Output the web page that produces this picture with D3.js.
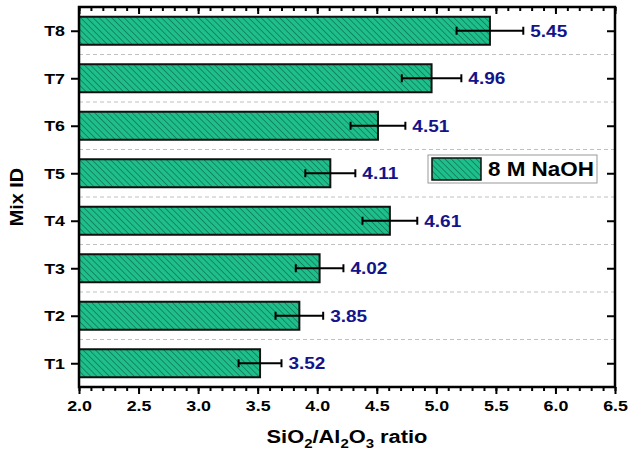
<!DOCTYPE html>
<html>
<head>
<meta charset="utf-8">
<script src="https://cdn.jsdelivr.net/npm/d3@7"></script>
<style>
  body { margin: 0; background: #fff; }
  svg text { font-family: Arial, "Liberation Sans", sans-serif; font-weight: bold; }
</style>
</head>
<body>
<div id="chart"></div>
<script>
// data
const mixes = ['T1', 'T2', 'T3', 'T4', 'T5', 'T6', 'T7', 'T8'];
const ratios = [3.52, 3.85, 4.02, 4.61, 4.11, 4.51, 4.96, 5.45];
const errors = [0.18, 0.20, 0.20, 0.23, 0.21, 0.23, 0.25, 0.28];
const xTicks = [2.0, 2.5, 3.0, 3.5, 4.0, 4.5, 5.0, 5.5, 6.0, 6.5];
const seriesName = '8 M NaOH';

const width = 628, height = 452;
const margin = {top: 7, right: 13, bottom: 65, left: 79};
const sx = 1.15; // text in the original is a bit wider than Arial

const svg = d3.select('#chart')
    .append('svg')
    .attr('width', width)
    .attr('height', height);

// hatch pattern for bars
const defs = svg.append('defs');
const pat = defs.append('pattern')
    .attr('id', 'hatch')
    .attr('patternUnits', 'userSpaceOnUse')
    .attr('width', 4.4)
    .attr('height', 4.4)
    .attr('patternTransform', 'rotate(-45)');
pat.append('rect').attr('width', 4.4).attr('height', 4.4).attr('fill', '#1ebf8b');
pat.append('line')
    .attr('x1', 0).attr('y1', 0).attr('x2', 0).attr('y2', 4.4)
    .attr('stroke', '#0c6b4c').attr('stroke-width', 1.3);

const x = d3.scaleLinear()
    .domain([2.0, 6.5])
    .range([margin.left, width - margin.right]);

const y = d3.scaleLinear()
    .domain([0.5, 8.5])
    .range([height - margin.bottom, margin.top]);

const barH = 28;

// dashed grid lines between categories
svg.append('g')
    .selectAll('line')
    .data(d3.range(1.5, 8.5, 1))
    .join('line')
        .attr('x1', x(2.0))
        .attr('x2', x(6.5))
        .attr('y1', d => y(d))
        .attr('y2', d => y(d))
        .attr('stroke', '#c0c0c0')
        .attr('stroke-dasharray', '4,3')
        .attr('stroke-width', 1);

// bars
svg.append('g')
    .selectAll('rect')
    .data(mixes)
    .join('rect')
        .attr('x', x(2.0))
        .attr('y', (_, i) => y(i + 1) - barH / 2)
        .attr('width', (_, i) => x(ratios[i]) - x(2.0))
        .attr('height', barH)
        .attr('fill', 'url(#hatch)')
        .attr('stroke', '#111')
        .attr('stroke-width', 2);

// error bars
const eb = svg.append('g').attr('stroke', '#000').attr('stroke-width', 2);
mixes.forEach((m, i) => {
    const cy = y(i + 1);
    const x0 = x(ratios[i] - errors[i]), x1 = x(ratios[i] + errors[i]);
    eb.append('line').attr('x1', x0).attr('x2', x1).attr('y1', cy).attr('y2', cy);
    eb.append('line').attr('x1', x0).attr('x2', x0).attr('y1', cy - 4).attr('y2', cy + 4);
    eb.append('line').attr('x1', x1).attr('x2', x1).attr('y1', cy - 4).attr('y2', cy + 4);
});

// value labels
svg.append('g')
    .selectAll('text')
    .data(mixes)
    .join('text')
        .attr('transform', (_, i) => `translate(${x(ratios[i] + errors[i]) + 7},${y(i + 1)}) scale(${sx},1)`)
        .attr('dy', '0.36em')
        .attr('fill', '#13138a')
        .attr('font-size', 16.5)
        .text((_, i) => ratios[i].toFixed(2));

// axes
const minor = d3.range(20, 66).map(d => d / 10);

const xAxis = svg.append('g')
    .attr('transform', `translate(0,${y(0.5)})`)
    .call(d3.axisBottom(x).tickValues(xTicks).tickFormat(d3.format('.1f')).tickSize(7).tickPadding(6));
xAxis.selectAll('text')
    .attr('font-size', 15.5)
    .attr('fill', '#000')
    .attr('transform', `scale(${sx},1)`);

svg.append('g')
    .attr('transform', `translate(0,${y(0.5)})`)
    .call(d3.axisBottom(x).tickValues(minor).tickFormat('').tickSize(4));

// top mirror ticks (inward)
svg.append('g')
    .attr('transform', `translate(0,${y(8.5)})`)
    .call(d3.axisBottom(x).tickValues(xTicks).tickFormat('').tickSize(7));
svg.append('g')
    .attr('transform', `translate(0,${y(8.5)})`)
    .call(d3.axisBottom(x).tickValues(minor).tickFormat('').tickSize(4));

const yAxis = svg.append('g')
    .attr('transform', `translate(${x(2.0)},0)`)
    .call(d3.axisLeft(y).tickValues(d3.range(1, 9)).tickFormat(d => mixes[d - 1]).tickSize(8).tickPadding(6));
yAxis.selectAll('text')
    .attr('font-size', 15.5)
    .attr('fill', '#000')
    .attr('x', -14 / sx)
    .attr('transform', `scale(${sx},1)`);

// right mirror ticks (inward)
svg.append('g')
    .attr('transform', `translate(${x(6.5)},0)`)
    .call(d3.axisLeft(y).tickValues(d3.range(1, 9)).tickFormat('').tickSize(8));

svg.selectAll('.domain').remove();
svg.selectAll('.tick line').attr('stroke', '#000').attr('stroke-width', 2);

// frame
svg.append('rect')
    .attr('x', x(2.0))
    .attr('y', y(8.5))
    .attr('width', x(6.5) - x(2.0))
    .attr('height', y(0.5) - y(8.5))
    .attr('fill', 'none')
    .attr('stroke', '#000')
    .attr('stroke-width', 2.5);

// axis titles
const xt = svg.append('text')
    .attr('transform', `translate(${(x(2.0) + x(6.5)) / 2},443) scale(${sx},1)`)
    .attr('text-anchor', 'middle')
    .attr('font-size', 19)
    .attr('fill', '#000');
xt.append('tspan').text('SiO');
xt.append('tspan').attr('font-size', 13).attr('dy', 5).text('2');
xt.append('tspan').attr('dy', -5).text('/Al');
xt.append('tspan').attr('font-size', 13).attr('dy', 5).text('2');
xt.append('tspan').attr('dy', -5).text('O');
xt.append('tspan').attr('font-size', 13).attr('dy', 5).text('3');
xt.append('tspan').attr('dy', -5).text(' ratio');

svg.append('text')
    .attr('transform', `translate(23,${y(4.5)}) rotate(-90) scale(1.1,1)`)
    .attr('text-anchor', 'middle')
    .attr('font-size', 18)
    .attr('fill', '#000')
    .text('Mix ID');

// legend
const lg = svg.append('g').attr('transform', 'translate(428,155)');
lg.append('rect')
    .attr('width', 169).attr('height', 28)
    .attr('fill', '#fff').attr('stroke', '#999').attr('stroke-width', 1);
lg.append('rect')
    .attr('x', 4).attr('y', 3).attr('width', 49).attr('height', 22)
    .attr('fill', 'url(#hatch)').attr('stroke', '#111').attr('stroke-width', 1.5);
lg.append('text')
    .attr('transform', `translate(60,14) scale(${sx},1)`)
    .attr('dy', '0.36em')
    .attr('font-size', 19.5)
    .attr('fill', '#000')
    .text(seriesName);
</script>
</body>
</html>
